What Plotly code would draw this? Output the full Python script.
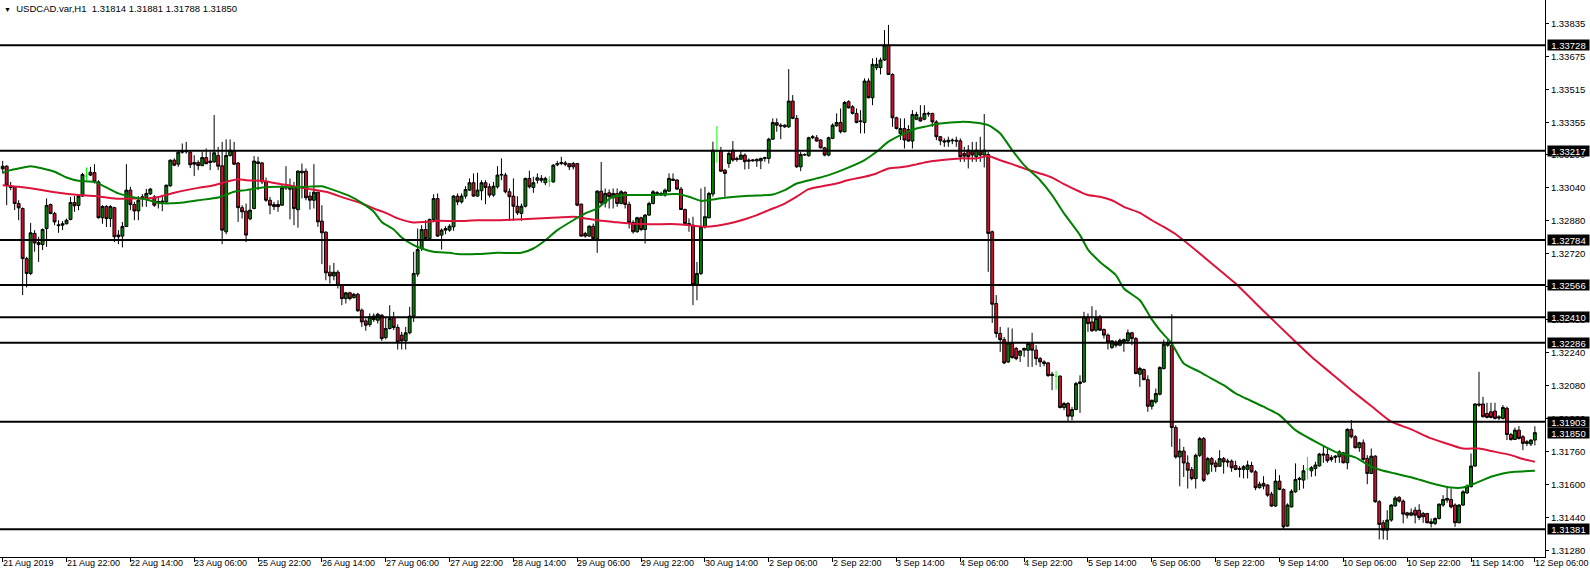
import plotly.graph_objects as go

# ---------------- data ----------------
time_labels = ["21 Aug 2019", "21 Aug 22:00", "22 Aug 14:00", "23 Aug 06:00", "25 Aug 22:00",
               "26 Aug 14:00", "27 Aug 06:00", "27 Aug 22:00", "28 Aug 14:00", "29 Aug 06:00",
               "29 Aug 22:00", "30 Aug 14:00", "2 Sep 06:00", "2 Sep 22:00", "3 Sep 14:00",
               "4 Sep 06:00", "4 Sep 22:00", "5 Sep 14:00", "6 Sep 06:00", "8 Sep 22:00",
               "9 Sep 14:00", "10 Sep 06:00", "10 Sep 22:00", "11 Sep 14:00", "12 Sep 06:00"]
label_bars = [0, 16, 32, 48, 64, 80, 96, 112, 128, 144, 160, 176, 192, 208, 224, 240,
              256, 272, 288, 304, 320, 336, 352, 368, 384]

opens = [
1.33129,1.33142,1.33039,1.33042,1.32961,1.32937,1.32694,1.32622,1.32816,1.32772,
1.32762,1.32840,1.32956,1.32913,1.32858,1.32856,1.32863,1.32884,1.32966,1.32952,
1.32997,1.33094,1.33113,1.33111,1.33066,1.32892,1.32947,1.32888,1.32941,1.32808,
1.32803,1.32850,1.33026,1.32956,1.32925,1.32990,1.32990,1.33008,1.32993,1.32971,
1.32973,1.32969,1.33047,1.33171,1.33152,1.33210,1.33212,1.33210,1.33160,1.33160,
1.33145,1.33184,1.33167,1.33163,1.33194,1.33144,1.32824,1.33194,1.33218,1.33157,
1.32941,1.32924,1.32887,1.32937,1.33163,1.33158,1.33066,1.32977,1.32956,1.32956,
1.32953,1.33036,1.33034,1.33037,1.32931,1.33118,1.33118,1.32997,1.32977,1.33016,
1.32876,1.32822,1.32628,1.32610,1.32628,1.32565,1.32500,1.32528,1.32505,1.32521,
1.32444,1.32392,1.32374,1.32416,1.32395,1.32420,1.32311,1.32355,1.32408,1.32360,
1.32323,1.32295,1.32334,1.32415,1.32619,1.32743,1.32835,1.32791,1.32884,1.32985,
1.32808,1.32832,1.32832,1.32848,1.32997,1.32969,1.32997,1.33026,1.33062,1.32997,
1.33023,1.33062,1.33042,1.33002,1.33042,1.33099,1.33099,1.33018,1.32997,1.32948,
1.32913,1.32948,1.33083,1.33039,1.33074,1.33083,1.33062,1.33070,1.33066,1.33149,
1.33155,1.33158,1.33154,1.33155,1.33155,1.32958,1.32816,1.32803,1.32851,1.32791,
1.33021,1.32964,1.33013,1.32989,1.33010,1.32961,1.33015,1.32957,1.32869,1.32824,
1.32892,1.32835,1.32905,1.32961,1.33010,1.33002,1.33002,1.33021,1.33073,1.33075,
1.33031,1.32932,1.32864,1.32856,1.32568,1.32622,1.32848,1.32892,1.33007,1.33215,
1.33215,1.33123,1.33155,1.33220,1.33180,1.33176,1.33196,1.33172,1.33168,1.33168,
1.33168,1.33180,1.33180,1.33273,1.33353,1.33341,1.33341,1.33333,1.33458,1.33374,
1.33139,1.33196,1.33193,1.33280,1.33280,1.33269,1.33231,1.33196,1.33277,1.33338,
1.33354,1.33309,1.33455,1.33430,1.33398,1.33358,1.33354,1.33555,1.33474,1.33620,
1.33620,1.33657,1.33729,1.33587,1.33377,1.33301,1.33325,1.33320,1.33264,1.33370,
1.33377,1.33370,1.33395,1.33398,1.33357,1.33285,1.33265,1.33260,1.33265,1.33268,
1.33265,1.33204,1.33220,1.33212,1.33188,1.33212,1.33196,1.33199,1.32824,1.32476,
1.32331,1.32301,1.32193,1.32282,1.32258,1.32225,1.32250,1.32250,1.32282,1.32250,
1.32209,1.32193,1.32188,1.32133,1.32124,1.32124,1.31972,1.31991,1.31930,1.31962,
1.32088,1.32096,1.32411,1.32387,1.32347,1.32411,1.32350,1.32323,1.32263,1.32290,
1.32274,1.32290,1.32295,1.32334,1.32306,1.32133,1.32156,1.32107,1.31978,1.31999,
1.32036,1.32161,1.32274,1.32274,1.31875,1.31732,1.31761,1.31703,1.31671,1.31627,
1.31740,1.31821,1.31651,1.31724,1.31703,1.31687,1.31724,1.31713,1.31712,1.31690,
1.31676,1.31672,1.31672,1.31691,1.31660,1.31583,1.31604,1.31596,1.31552,1.31494,
1.31615,1.31575,1.31397,1.31490,1.31563,1.31623,1.31620,1.31673,1.31665,1.31676,
1.31689,1.31741,1.31744,1.31730,1.31730,1.31733,1.31752,1.31704,1.31866,1.31830,
1.31777,1.31801,1.31725,1.31652,1.31736,1.31515,1.31413,1.31377,1.31426,1.31495,
1.31536,1.31518,1.31461,1.31450,1.31474,1.31474,1.31458,1.31458,1.31418,1.31410,
1.31434,1.31499,1.31523,1.31526,1.31499,1.31413,1.31499,1.31558,1.31588,1.31688,
1.31989,1.31989,1.31943,1.31951,1.31955,1.31927,1.31919,1.31968,1.31841,1.31817,
1.31862,1.31830,1.31806,1.31795,1.31814]

highs = [
1.33168,1.33147,1.33066,1.33045,1.32977,1.32942,1.32703,1.32867,1.32832,1.32800,
1.32840,1.32986,1.32961,1.32921,1.32880,1.32876,1.32888,1.32993,1.32997,1.33007,
1.33110,1.33136,1.33139,1.33152,1.33074,1.32953,1.32953,1.32953,1.32945,1.32832,
1.32872,1.33152,1.33042,1.32969,1.32997,1.33007,1.33032,1.33037,1.33002,1.32997,
1.32997,1.33053,1.33175,1.33180,1.33215,1.33252,1.33260,1.33215,1.33195,1.33171,
1.33212,1.33228,1.33212,1.33390,1.33236,1.33260,1.33272,1.33272,1.33260,1.33163,
1.32953,1.32961,1.33026,1.33191,1.33188,1.33163,1.33087,1.32993,1.32969,1.32977,
1.33053,1.33142,1.33082,1.33066,1.33123,1.33155,1.33131,1.33018,1.33152,1.33018,
1.32953,1.32827,1.32662,1.32673,1.32638,1.32570,1.32533,1.32533,1.32528,1.32528,
1.32452,1.32403,1.32428,1.32428,1.32431,1.32423,1.32412,1.32468,1.32436,1.32375,
1.32339,1.32363,1.32460,1.32727,1.32840,1.32856,1.32880,1.32888,1.33006,1.33010,
1.32840,1.32851,1.32861,1.33002,1.33010,1.33010,1.33045,1.33083,1.33107,1.33110,
1.33074,1.33074,1.33058,1.33066,1.33142,1.33180,1.33110,1.33034,1.33083,1.32997,
1.32961,1.33086,1.33120,1.33091,1.33107,1.33099,1.33091,1.33094,1.33152,1.33168,
1.33188,1.33168,1.33158,1.33163,1.33158,1.32961,1.32824,1.32856,1.32864,1.33026,
1.33163,1.33034,1.33029,1.33034,1.33034,1.33026,1.33021,1.32970,1.32880,1.32897,
1.32897,1.32910,1.32970,1.33026,1.33021,1.33018,1.33034,1.33107,1.33107,1.33079,
1.33042,1.32937,1.32889,1.32897,1.32678,1.33034,1.33042,1.33018,1.33261,1.33337,
1.33236,1.33128,1.33220,1.33264,1.33188,1.33220,1.33204,1.33180,1.33176,1.33180,
1.33183,1.33188,1.33280,1.33374,1.33374,1.33350,1.33345,1.33613,1.33487,1.33390,
1.33212,1.33204,1.33285,1.33293,1.33293,1.33273,1.33236,1.33285,1.33350,1.33398,
1.33422,1.33458,1.33462,1.33438,1.33422,1.33414,1.33568,1.33568,1.33665,1.33668,
1.33668,1.33802,1.33827,1.33592,1.33382,1.33374,1.33374,1.33341,1.33414,1.33406,
1.33438,1.33438,1.33406,1.33401,1.33365,1.33288,1.33277,1.33285,1.33277,1.33285,
1.33277,1.33236,1.33244,1.33260,1.33260,1.33285,1.33395,1.33212,1.32830,1.32517,
1.32363,1.32314,1.32360,1.32355,1.32266,1.32250,1.32263,1.32290,1.32334,1.32274,
1.32217,1.32201,1.32193,1.32145,1.32149,1.32128,1.31999,1.31999,1.31975,1.32096,
1.32128,1.32436,1.32428,1.32463,1.32444,1.32420,1.32355,1.32331,1.32298,1.32298,
1.32306,1.32306,1.32350,1.32339,1.32314,1.32169,1.32161,1.32128,1.32010,1.32064,
1.32172,1.32301,1.32301,1.32424,1.31886,1.31821,1.31781,1.31740,1.31684,1.31748,
1.31829,1.31829,1.31732,1.31732,1.31716,1.31765,1.31732,1.31724,1.31720,1.31714,
1.31688,1.31693,1.31714,1.31709,1.31668,1.31612,1.31639,1.31600,1.31563,1.31672,
1.31644,1.31579,1.31507,1.31575,1.31701,1.31636,1.31693,1.31733,1.31688,1.31709,
1.31752,1.31785,1.31773,1.31741,1.31741,1.31765,1.31757,1.31871,1.31911,1.31838,
1.31806,1.31817,1.31741,1.31773,1.31741,1.31523,1.31426,1.31474,1.31503,1.31542,
1.31542,1.31526,1.31466,1.31482,1.31490,1.31503,1.31466,1.31461,1.31434,1.31439,
1.31507,1.31547,1.31584,1.31579,1.31507,1.31503,1.31571,1.31599,1.31749,1.31992,
1.32145,1.32024,1.31995,1.31995,1.31995,1.31935,1.31984,1.31976,1.31849,1.31875,
1.31882,1.31838,1.31814,1.31817,1.31881]

lows = [
1.33107,1.32953,1.33026,1.32929,1.32880,1.32517,1.32554,1.32614,1.32727,1.32678,
1.32735,1.32751,1.32909,1.32856,1.32819,1.32832,1.32860,1.32880,1.32921,1.32929,
1.32993,1.33074,1.33094,1.33058,1.32888,1.32863,1.32847,1.32847,1.32774,1.32764,
1.32748,1.32847,1.32929,1.32880,1.32880,1.32945,1.32945,1.33002,1.32945,1.32937,
1.32924,1.32961,1.33042,1.33142,1.33139,1.33203,1.33203,1.33133,1.33094,1.33123,
1.33142,1.33152,1.33123,1.33158,1.33123,1.32764,1.32812,1.33188,1.33147,1.32872,
1.32888,1.32774,1.32880,1.32933,1.33026,1.33055,1.32969,1.32909,1.32929,1.32921,
1.32950,1.33026,1.32884,1.32856,1.32844,1.32986,1.32977,1.32932,1.32937,1.32848,
1.32667,1.32589,1.32573,1.32589,1.32549,1.32468,1.32476,1.32492,1.32500,1.32436,
1.32363,1.32344,1.32363,1.32387,1.32379,1.32295,1.32302,1.32350,1.32347,1.32253,
1.32253,1.32253,1.32327,1.32387,1.32606,1.32731,1.32783,1.32783,1.32870,1.32800,
1.32738,1.32812,1.32824,1.32829,1.32953,1.32961,1.32985,1.33023,1.32994,1.32994,
1.32977,1.32958,1.32990,1.32994,1.33034,1.33074,1.33010,1.32877,1.32877,1.32905,
1.32877,1.32942,1.33034,1.33013,1.33058,1.33062,1.33050,1.33042,1.33062,1.33142,
1.33147,1.33142,1.33123,1.33126,1.32948,1.32800,1.32796,1.32800,1.32787,1.32722,
1.32953,1.32942,1.32937,1.32937,1.32945,1.32957,1.32937,1.32840,1.32815,1.32820,
1.32827,1.32767,1.32900,1.32957,1.33002,1.32999,1.32994,1.33018,1.33070,1.33026,
1.32929,1.32859,1.32824,1.32468,1.32492,1.32614,1.32840,1.32889,1.32994,1.33159,
1.33115,1.32994,1.33134,1.33164,1.33164,1.33172,1.33126,1.33128,1.33164,1.33139,
1.33128,1.33164,1.33155,1.33269,1.33309,1.33273,1.33328,1.33328,1.33370,1.33134,
1.33118,1.33193,1.33188,1.33273,1.33261,1.33228,1.33190,1.33190,1.33273,1.33333,
1.33301,1.33306,1.33422,1.33393,1.33350,1.33301,1.33301,1.33471,1.33438,1.33608,
1.33587,1.33652,1.33584,1.33333,1.33320,1.33269,1.33228,1.33261,1.33228,1.33365,
1.33358,1.33365,1.33382,1.33333,1.33268,1.33244,1.33236,1.33236,1.33249,1.33236,
1.33163,1.33163,1.33131,1.33163,1.33163,1.33163,1.33136,1.32630,1.32382,1.32311,
1.32242,1.32182,1.32188,1.32209,1.32201,1.32193,1.32217,1.32169,1.32169,1.32177,
1.32169,1.32172,1.32120,1.32056,1.32059,1.31967,1.31959,1.31902,1.31910,1.31959,
1.31946,1.32091,1.32339,1.32339,1.32339,1.32344,1.32306,1.32253,1.32256,1.32263,
1.32269,1.32242,1.32282,1.32274,1.32133,1.32072,1.32104,1.31951,1.31962,1.31991,
1.32031,1.32156,1.32266,1.31781,1.31724,1.31590,1.31635,1.31579,1.31619,1.31579,
1.31732,1.31611,1.31643,1.31660,1.31660,1.31684,1.31651,1.31684,1.31660,1.31668,
1.31633,1.31628,1.31628,1.31655,1.31571,1.31579,1.31575,1.31539,1.31490,1.31490,
1.31571,1.31381,1.31393,1.31487,1.31558,1.31571,1.31579,1.31623,1.31636,1.31639,
1.31685,1.31704,1.31704,1.31709,1.31704,1.31704,1.31701,1.31672,1.31822,1.31773,
1.31757,1.31714,1.31600,1.31649,1.31510,1.31332,1.31332,1.31329,1.31418,1.31490,
1.31510,1.31410,1.31434,1.31445,1.31410,1.31426,1.31413,1.31410,1.31390,1.31402,
1.31429,1.31490,1.31510,1.31482,1.31393,1.31410,1.31494,1.31552,1.31584,1.31685,
1.31976,1.31924,1.31919,1.31919,1.31914,1.31911,1.31914,1.31814,1.31811,1.31814,
1.31817,1.31765,1.31785,1.31785,1.31788]

closes = [
1.33142,1.33050,1.33045,1.32961,1.32940,1.32694,1.32622,1.32819,1.32770,1.32762,
1.32835,1.32952,1.32913,1.32872,1.32854,1.32863,1.32880,1.32966,1.32950,1.32997,
1.33102,1.33094,1.33099,1.33066,1.32892,1.32947,1.32888,1.32947,1.32800,1.32800,
1.32850,1.33026,1.32956,1.32925,1.32977,1.32993,1.33010,1.33031,1.32953,1.32968,
1.32966,1.33050,1.33171,1.33147,1.33210,1.33215,1.33214,1.33149,1.33152,1.33145,
1.33184,1.33154,1.33160,1.33207,1.33142,1.32832,1.33194,1.33220,1.33152,1.32941,
1.32921,1.32808,1.32929,1.33167,1.33155,1.33066,1.32977,1.32953,1.32946,1.32946,
1.33037,1.33039,1.33031,1.32937,1.33118,1.33110,1.32989,1.32977,1.33016,1.32872,
1.32819,1.32625,1.32610,1.32628,1.32565,1.32500,1.32528,1.32500,1.32521,1.32441,
1.32387,1.32371,1.32412,1.32398,1.32424,1.32306,1.32355,1.32403,1.32360,1.32290,
1.32295,1.32334,1.32415,1.32622,1.32738,1.32835,1.32791,1.32884,1.32985,1.32803,
1.32832,1.32840,1.32851,1.32997,1.32969,1.32997,1.33029,1.33062,1.32997,1.33026,
1.33062,1.33039,1.33002,1.33045,1.33099,1.33102,1.33018,1.32994,1.32948,1.32916,
1.32948,1.33083,1.33042,1.33062,1.33086,1.33074,1.33083,1.33070,1.33147,1.33155,
1.33160,1.33152,1.33139,1.33139,1.32953,1.32803,1.32803,1.32851,1.32791,1.33021,
1.32964,1.33010,1.32994,1.33010,1.32961,1.33018,1.32957,1.32869,1.32824,1.32892,
1.32835,1.32905,1.32961,1.33018,1.33013,1.33010,1.33026,1.33083,1.33079,1.33031,
1.32932,1.32864,1.32856,1.32568,1.32622,1.32848,1.32897,1.33010,1.33220,1.33215,
1.33118,1.33107,1.33204,1.33172,1.33175,1.33196,1.33164,1.33167,1.33172,1.33175,
1.33180,1.33183,1.33273,1.33354,1.33341,1.33337,1.33333,1.33458,1.33374,1.33139,
1.33199,1.33199,1.33280,1.33285,1.33264,1.33231,1.33196,1.33280,1.33341,1.33354,
1.33309,1.33451,1.33425,1.33398,1.33354,1.33361,1.33555,1.33474,1.33636,1.33636,
1.33657,1.33729,1.33587,1.33377,1.33325,1.33325,1.33269,1.33264,1.33393,1.33393,
1.33361,1.33398,1.33398,1.33357,1.33285,1.33265,1.33260,1.33268,1.33268,1.33264,
1.33188,1.33191,1.33188,1.33196,1.33220,1.33196,1.33220,1.32816,1.32473,1.32331,
1.32301,1.32188,1.32285,1.32214,1.32209,1.32246,1.32258,1.32282,1.32250,1.32209,
1.32193,1.32185,1.32127,1.32127,1.32124,1.31972,1.31991,1.31930,1.31962,1.32088,
1.32096,1.32411,1.32379,1.32344,1.32403,1.32347,1.32323,1.32290,1.32295,1.32274,
1.32298,1.32301,1.32334,1.32306,1.32137,1.32161,1.32107,1.31978,1.32007,1.32040,
1.32166,1.32279,1.32285,1.31875,1.31732,1.31761,1.31703,1.31668,1.31627,1.31740,
1.31821,1.31619,1.31724,1.31697,1.31684,1.31724,1.31708,1.31708,1.31680,1.31672,
1.31672,1.31685,1.31693,1.31660,1.31583,1.31600,1.31591,1.31547,1.31494,1.31615,
1.31575,1.31393,1.31499,1.31566,1.31623,1.31628,1.31665,1.31673,1.31680,1.31693,
1.31746,1.31746,1.31714,1.31720,1.31736,1.31757,1.31704,1.31866,1.31830,1.31777,
1.31801,1.31720,1.31652,1.31736,1.31515,1.31405,1.31377,1.31426,1.31499,1.31533,
1.31518,1.31455,1.31450,1.31461,1.31450,1.31439,1.31442,1.31413,1.31410,1.31434,
1.31503,1.31526,1.31531,1.31490,1.31413,1.31499,1.31563,1.31588,1.31688,1.31989,
1.31984,1.31927,1.31924,1.31924,1.31919,1.31921,1.31972,1.31841,1.31817,1.31862,
1.31822,1.31798,1.31798,1.31814,1.31850]

fast_ma_bars = [0, 2, 4, 7, 10, 13, 16, 19, 23, 26, 29, 33, 36, 39, 44, 49, 54, 58, 61, 65,
                70, 73, 76, 80, 83, 87, 90, 93, 95, 98, 100, 103, 105, 108, 112, 114, 119, 124,
                130, 133, 136, 139, 143, 146, 149, 151, 153, 157, 162, 169, 172, 175, 177, 181,
                187, 193, 196, 199, 204, 207, 211, 216, 219, 222, 226, 229, 231, 235, 240, 244,
                247, 250, 253, 256, 260, 263, 266, 270, 272, 275, 279, 281, 285, 288, 290, 293,
                296, 300, 303, 306, 309, 311, 316, 320, 324, 329, 334, 339, 343, 346, 349, 354,
                359, 363, 366, 369, 373, 376, 379, 384]
fast_ma = [1.33110, 1.33123, 1.33131, 1.33142, 1.33131, 1.33115, 1.33087, 1.33071, 1.33066, 1.33039,
           1.33010, 1.32990, 1.32981, 1.32964, 1.32964, 1.32977, 1.32990, 1.33018, 1.33026, 1.33039,
           1.33042, 1.33039, 1.33042, 1.33045, 1.33026, 1.32997, 1.32964, 1.32921, 1.32872, 1.32835,
           1.32796, 1.32759, 1.32743, 1.32727, 1.32722, 1.32716, 1.32716, 1.32722, 1.32722, 1.32743,
           1.32783, 1.32832, 1.32880, 1.32913, 1.32937, 1.32969, 1.32994, 1.33002, 1.33002, 1.33007,
           1.32994, 1.32974, 1.32978, 1.32989, 1.32999, 1.33005, 1.33026, 1.33058, 1.33083, 1.33099,
           1.33128, 1.33172, 1.33212, 1.33261, 1.33301, 1.33325, 1.33333, 1.33349, 1.33357, 1.33353,
           1.33341, 1.33301, 1.33220, 1.33147, 1.33074, 1.33002, 1.32913, 1.32808, 1.32738, 1.32678,
           1.32614, 1.32549, 1.32492, 1.32399, 1.32347, 1.32282, 1.32185, 1.32145, 1.32112, 1.32080,
           1.32040, 1.32021, 1.31976, 1.31935, 1.31862, 1.31806, 1.31757, 1.31730, 1.31685, 1.31665,
           1.31652, 1.31628, 1.31600, 1.31584, 1.31584, 1.31604, 1.31636, 1.31652, 1.31660, 1.31665]

slow_ma_bars = [0, 4, 9, 14, 19, 23, 26, 29, 33, 36, 39, 43, 46, 49, 53, 56, 59, 61, 65, 68,
                71, 76, 81, 86, 90, 93, 96, 99, 103, 106, 109, 114, 119, 124, 129, 134, 139, 143,
                146, 149, 153, 157, 162, 169, 172, 176, 179, 182, 186, 189, 192, 196, 199, 202,
                206, 209, 212, 216, 219, 222, 226, 229, 232, 235, 240, 244, 247, 250, 253, 256,
                260, 263, 266, 270, 272, 275, 278, 281, 285, 288, 291, 294, 300, 303, 306, 309,
                316, 324, 328, 333, 338, 343, 348, 353, 358, 363, 366, 370, 373, 378, 381, 384]
slow_ma = [1.33050, 1.33042, 1.33029, 1.33013, 1.33002, 1.32997, 1.32990, 1.32984, 1.32986, 1.32986,
           1.32993, 1.33013, 1.33026, 1.33037, 1.33050, 1.33066, 1.33079, 1.33074, 1.33071, 1.33061,
           1.33052, 1.33034, 1.33018, 1.32986, 1.32961, 1.32937, 1.32916, 1.32889, 1.32869, 1.32872,
           1.32877, 1.32876, 1.32880, 1.32880, 1.32884, 1.32889, 1.32893, 1.32897, 1.32889, 1.32880,
           1.32872, 1.32864, 1.32861, 1.32861, 1.32856, 1.32848, 1.32853, 1.32864, 1.32885, 1.32905,
           1.32929, 1.32961, 1.32994, 1.33031, 1.33047, 1.33058, 1.33075, 1.33091, 1.33107, 1.33131,
           1.33139, 1.33151, 1.33164, 1.33171, 1.33180, 1.33180, 1.33191, 1.33171, 1.33152, 1.33131,
           1.33107, 1.33087, 1.33055, 1.33018, 1.33002, 1.32994, 1.32977, 1.32945, 1.32916, 1.32880,
           1.32848, 1.32812, 1.32719, 1.32670, 1.32622, 1.32573, 1.32440, 1.32291, 1.32218, 1.32137,
           1.32056, 1.31979, 1.31903, 1.31866, 1.31822, 1.31790, 1.31773, 1.31773, 1.31761, 1.31741,
           1.31722, 1.31709]

levels = [1.33728, 1.33217, 1.32784, 1.32566, 1.32410, 1.32286, 1.31903, 1.31381]
last_price = 1.31850
price_ticks = [1.31280, 1.31440, 1.31600, 1.31760, 1.31920, 1.32080, 1.32240, 1.32400, 1.32560,
               1.32720, 1.32880, 1.33040, 1.33200, 1.33355, 1.33515, 1.33675, 1.33835]
symbol = "USDCAD.var,H1"

# ---------------- figure ----------------
FONT = "Liberation Sans"
FS = 9.5
FS_DATE = 9
bars = list(range(len(opens)))
doji = [i for i in bars if abs(opens[i] - closes[i]) < 1e-9]
normal = [i for i in bars if i not in doji]

fig = go.Figure()
fig.add_trace(go.Candlestick(
    x=normal,
    open=[opens[i] for i in normal], high=[highs[i] for i in normal],
    low=[lows[i] for i in normal], close=[closes[i] for i in normal],
    increasing=dict(line=dict(color="#000000", width=1), fillcolor="#008000"),
    decreasing=dict(line=dict(color="#000000", width=1), fillcolor="#c8102e"),
    whiskerwidth=0, hoverinfo="skip", showlegend=False))

# doji bars (open == close) drawn in lime like MT4
dx, dy = [], []
for i in doji:
    dx += [i, i, None, i - 0.35, i + 0.35, None]
    dy += [lows[i], highs[i], None, opens[i], opens[i], None]
fig.add_trace(go.Scatter(x=dx, y=dy, mode="lines", line=dict(color="#00ff00", width=1),
                         hoverinfo="skip", showlegend=False))

fig.add_trace(go.Scatter(x=slow_ma_bars, y=slow_ma, mode="lines",
                         line=dict(color="#dc143c", width=2, shape="spline", smoothing=0.6),
                         hoverinfo="skip", showlegend=False))
fig.add_trace(go.Scatter(x=fast_ma_bars, y=fast_ma, mode="lines",
                         line=dict(color="#008000", width=2, shape="spline", smoothing=0.6),
                         hoverinfo="skip", showlegend=False))

for lv in levels:
    fig.add_shape(type="line", xref="paper", x0=0, x1=1, yref="y", y0=lv, y1=lv,
                  line=dict(color="black", width=2), layer="above")

annotations = []
for lv in levels + [last_price]:
    annotations.append(dict(
        x=1, xref="paper", xanchor="left", xshift=2, y=lv, yref="y", yanchor="middle",
        text=f"{lv:.5f}", showarrow=False, bgcolor="black", borderpad=0,
        width=41, height=10, font=dict(family=FONT, size=FS, color="white")))

for b, lab in zip(label_bars, time_labels):
    annotations.append(dict(
        x=b, xref="x", xanchor="left", xshift=-2, y=0, yref="paper", yanchor="top", yshift=1,
        text=lab, showarrow=False, font=dict(family=FONT, size=FS_DATE, color="black")))

annotations.append(dict(
    x=0, xref="paper", xanchor="left", xshift=2, y=1, yref="paper", yanchor="top", yshift=-1,
    text=f"<span style='font-size:7px'>▼</span>  {symbol}  " + " ".join(
        f"{v:.5f}" for v in (opens[-1], highs[-1], lows[-1], closes[-1])),
    showarrow=False, font=dict(family=FONT, size=FS, color="black")))

fig.update_layout(
    width=1590, height=570,
    margin=dict(l=0, r=45, t=0, b=13),
    paper_bgcolor="white", plot_bgcolor="white",
    boxgap=0.15, boxgroupgap=0.15,
    showlegend=False,
    annotations=annotations,
    font=dict(family=FONT, size=FS, color="black"),
    xaxis=dict(range=[-0.677, 386.54], showgrid=False, zeroline=False,
               tickvals=label_bars, showticklabels=False, ticks="outside", ticklen=4,
               tickcolor="black", showline=True, linecolor="black", linewidth=1,
               rangeslider=dict(visible=False), fixedrange=True),
    yaxis=dict(range=[1.31247, 1.33948], side="right", showgrid=False, zeroline=False,
               tickvals=price_ticks, ticktext=[f"{v:.5f}" for v in price_ticks],
               ticks="outside", ticklen=3, tickcolor="black",
               tickfont=dict(family=FONT, size=FS, color="black"),
               showline=True, linecolor="black", linewidth=1, fixedrange=True),
)

fig.write_html("out.html", config={"displayModeBar": False},
               post_script="document.body.style.margin='0';document.body.style.padding='0';"
                           "document.documentElement.style.overflow='hidden';")
